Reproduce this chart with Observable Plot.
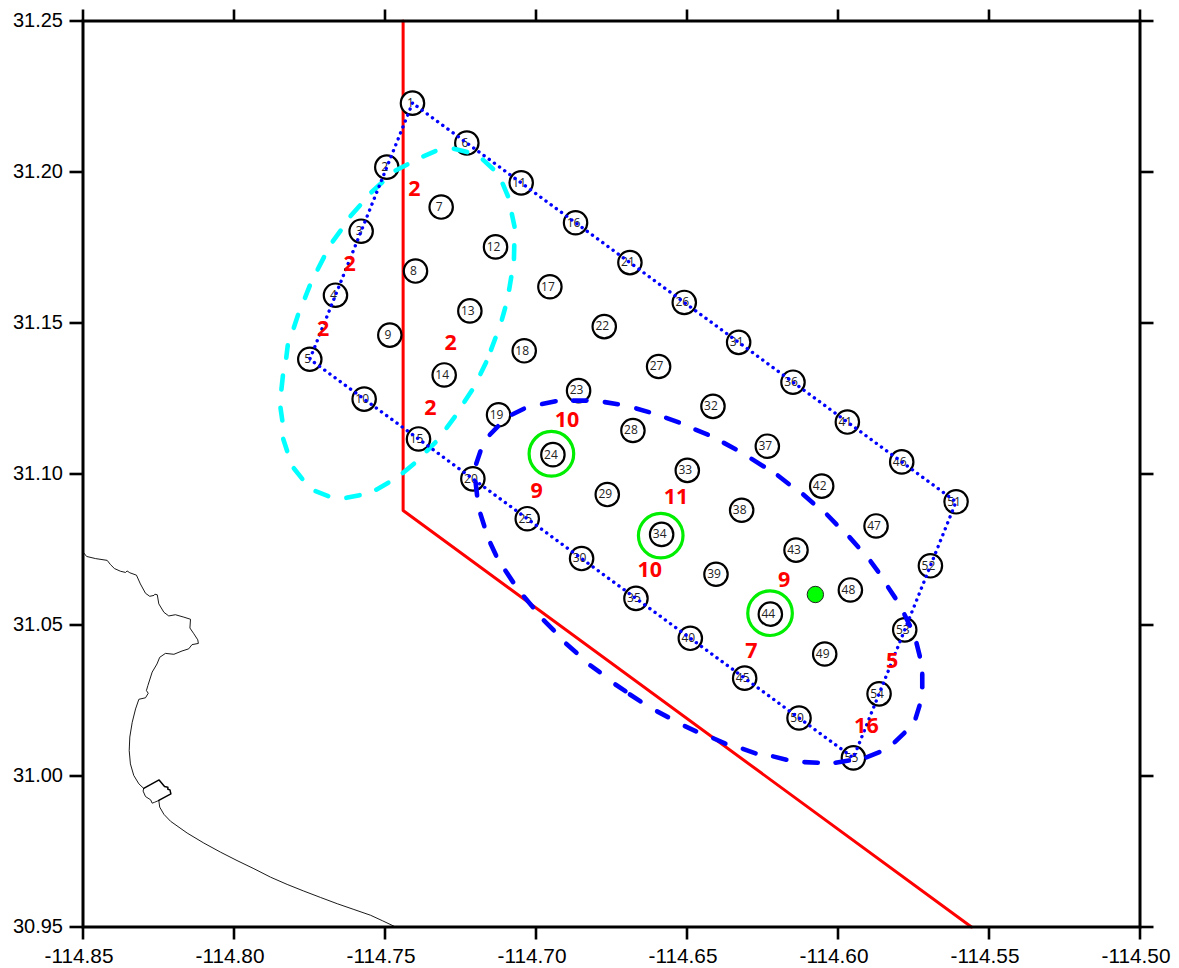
<!DOCTYPE html>
<html>
<head>
<meta charset="utf-8">
<script src="https://cdn.jsdelivr.net/npm/d3@7"></script>
<script src="https://cdn.jsdelivr.net/npm/@observablehq/plot@0.6"></script>
<style>
html,body{margin:0;padding:0;background:#fff}
svg{display:block}
</style>
</head>
<body>
<div id="chart"></div>
<script>
const xTicks = [-114.85,-114.80,-114.75,-114.70,-114.65,-114.60,-114.55,-114.50];
const yTicks = [30.95,31.00,31.05,31.10,31.15,31.20,31.25];

const stationLon = [
 -114.7409,-114.7494,-114.7579,-114.7664,-114.7749,
 -114.7229,-114.7314,-114.7399,-114.7484,-114.7569,
 -114.7049,-114.7134,-114.7219,-114.7304,-114.7389,
 -114.6869,-114.6954,-114.7039,-114.7124,-114.7209,
 -114.6689,-114.6774,-114.6859,-114.6944,-114.7029,
 -114.6509,-114.6594,-114.6679,-114.6764,-114.6849,
 -114.6329,-114.6414,-114.6499,-114.6584,-114.6669,
 -114.6149,-114.6234,-114.6319,-114.6404,-114.6489,
 -114.5969,-114.6054,-114.6139,-114.6224,-114.6309,
 -114.5789,-114.5874,-114.5959,-114.6044,-114.6129,
 -114.5609,-114.5694,-114.5779,-114.5864,-114.5949];
const stationLat = [
 31.2228,31.2016,31.1804,31.1592,31.1380,
 31.2096,31.1884,31.1672,31.1460,31.1248,
 31.1964,31.1752,31.1540,31.1328,31.1116,
 31.1832,31.1620,31.1408,31.1196,31.0984,
 31.1700,31.1488,31.1276,31.1064,31.0852,
 31.1568,31.1356,31.1144,31.0932,31.0720,
 31.1436,31.1224,31.1012,31.0800,31.0588,
 31.1304,31.1092,31.0880,31.0668,31.0456,
 31.1172,31.0960,31.0748,31.0536,31.0324,
 31.1040,31.0828,31.0616,31.0404,31.0192,
 31.0908,31.0696,31.0484,31.0272,31.0060];
const perimeter = [1,2,3,4,5,10,15,20,25,30,35,40,45,50,55,54,53,52,51,46,41,36,31,26,21,16,11,6,1];

const countLon = [-114.7403,-114.7617,-114.7705,-114.7283,-114.7350,-114.6897,-114.6998,-114.6536,-114.6623,-114.6287,-114.6178,-114.5821,-114.5906];
const countLat = [31.1944,31.1694,31.1481,31.1433,31.1219,31.1179,31.0943,31.0923,31.0683,31.0413,31.0650,31.0382,31.0164];
const countText = ["2","2","2","2","2","10","9","11","10","7","9","5","16"];

const ringLon = [-114.6949,-114.6587,-114.6225];
const ringLat = [31.1067,31.0796,31.0539];
const sourceLon = [-114.6075];
const sourceLat = [31.0601];

const boundary = [[-114.7440,31.25],[-114.7440,31.0879],[-114.5558,30.95]];

const cyanDashes = [
 [-114.7465,31.2005,-114.7426,31.2025],[-114.7373,31.2052,-114.7333,31.2069],
 [-114.7272,31.2077,-114.7228,31.2066],[-114.7176,31.2041,-114.7142,31.2010],
 [-114.7110,31.1961,-114.7093,31.1920],[-114.7080,31.1861,-114.7071,31.1819],
 [-114.7072,31.1757,-114.7073,31.1712],[-114.7082,31.1652,-114.7089,31.1610],
 [-114.7102,31.1550,-114.7113,31.1511],[-114.7134,31.1451,-114.7149,31.1411],
 [-114.7165,31.1370,-114.7184,31.1331],[-114.7212,31.1277,-114.7237,31.1239],
 [-114.7269,31.1189,-114.7296,31.1153],[-114.7333,31.1105,-114.7362,31.1076],
 [-114.7404,31.1034,-114.7441,31.1003],[-114.7489,31.0971,-114.7529,31.0948],
 [-114.7584,31.0930,-114.7628,31.0921],[-114.7688,31.0927,-114.7730,31.0943],
 [-114.7774,31.0984,-114.7802,31.1019],[-114.7824,31.1076,-114.7837,31.1116],
 [-114.7840,31.1177,-114.7846,31.1219],[-114.7843,31.1280,-114.7838,31.1326],
 [-114.7827,31.1385,-114.7822,31.1426],[-114.7802,31.1484,-114.7788,31.1527],
 [-114.7765,31.1583,-114.7749,31.1624],[-114.7723,31.1677,-114.7702,31.1718],
 [-114.7673,31.1770,-114.7647,31.1806],[-114.7614,31.1854,-114.7583,31.1889],
 [-114.7545,31.1933,-114.7509,31.1966]];

const blueDashes = [
 [-114.7153,31.1130,-114.7126,31.1158],[-114.7079,31.1197,-114.7040,31.1216],
 [-114.6980,31.1232,-114.6935,31.1241],[-114.6877,31.1243,-114.6833,31.1243],
 [-114.6772,31.1238,-114.6729,31.1231],[-114.6668,31.1217,-114.6626,31.1205],
 [-114.6569,31.1186,-114.6527,31.1171],[-114.6472,31.1147,-114.6431,31.1130],
 [-114.6378,31.1103,-114.6339,31.1082],[-114.6286,31.1050,-114.6246,31.1025],
 [-114.6199,31.0995,-114.6163,31.0967],[-114.6115,31.0932,-114.6082,31.0903],
 [-114.6036,31.0865,-114.6005,31.0833],[-114.5962,31.0791,-114.5933,31.0758],
 [-114.5892,31.0711,-114.5867,31.0677],[-114.5834,31.0625,-114.5810,31.0589],
 [-114.5780,31.0535,-114.5762,31.0498],[-114.5740,31.0440,-114.5729,31.0396],
 [-114.5721,31.0338,-114.5721,31.0294],[-114.5730,31.0233,-114.5743,31.0191],
 [-114.5780,31.0143,-114.5812,31.0112],[-114.5863,31.0079,-114.5906,31.0062],
 [-114.5964,31.0051,-114.6008,31.0044],[-114.6067,31.0044,-114.6111,31.0046],
 [-114.6171,31.0054,-114.6215,31.0065],[-114.6273,31.0075,-114.6315,31.0090],
 [-114.6373,31.0107,-114.6413,31.0125],[-114.6470,31.0148,-114.6507,31.0165],
 [-114.6563,31.0195,-114.6599,31.0214],[-114.6654,31.0247,-114.6689,31.0270],
 [-114.6704,31.0281,-114.6737,31.0303],[-114.6789,31.0344,-114.6820,31.0366],
 [-114.6866,31.0408,-114.6900,31.0438],[-114.6941,31.0482,-114.6974,31.0515],
 [-114.7010,31.0559,-114.7040,31.0594],[-114.7076,31.0642,-114.7101,31.0680],
 [-114.7132,31.0730,-114.7151,31.0771],[-114.7171,31.0827,-114.7184,31.0868],
 [-114.7195,31.0929,-114.7200,31.0973],[-114.7198,31.1034,-114.7184,31.1075]];

const coastNorth = [
 [-114.8497,31.0738],[-114.8488,31.0727],[-114.8459,31.0720],[-114.8420,31.0714],[-114.8409,31.0700],
 [-114.8396,31.0687],[-114.8376,31.0678],[-114.8359,31.0674],[-114.8354,31.0679],[-114.8345,31.0673],
 [-114.8323,31.0665],[-114.8310,31.0636],[-114.8293,31.0605],[-114.8279,31.0595],[-114.8265,31.0598],
 [-114.8262,31.0602],[-114.8254,31.0600],[-114.8249,31.0570],[-114.8232,31.0542],[-114.8216,31.0530],
 [-114.8194,31.0534],[-114.8166,31.0526],[-114.8144,31.0519],[-114.8146,31.0490],[-114.8133,31.0471],
 [-114.8120,31.0451],[-114.8118,31.0439],[-114.8139,31.0435],[-114.8150,31.0421],[-114.8172,31.0414],
 [-114.8199,31.0403],[-114.8227,31.0406],[-114.8246,31.0393],[-114.8255,31.0371],[-114.8271,31.0344],
 [-114.8285,31.0300],[-114.8290,31.0283],[-114.8284,31.0274],[-114.8293,31.0259],[-114.8315,31.0254],
 [-114.8326,31.0222],[-114.8337,31.0178],[-114.8345,31.0129],[-114.8347,31.0084],[-114.8343,31.0040],
 [-114.8332,31.0002],[-114.8315,30.9974],[-114.8299,30.9959],[-114.8301,30.9950],[-114.8293,30.9932],
 [-114.8276,30.9921],[-114.8271,30.9910],[-114.8263,30.9913],[-114.8249,30.9919]];
const harbourWall = [
 [-114.8299,30.9959],[-114.8248,30.9987],[-114.8230,30.9965],[-114.8219,30.9963],[-114.8219,30.9956],
 [-114.8212,30.9954],[-114.8209,30.9941],[-114.8249,30.9919]];
const coastSouth = [
 [-114.8249,30.9919],[-114.8246,30.9897],[-114.8232,30.9873],[-114.8210,30.9850],[-114.8155,30.9811],
 [-114.8100,30.9778],[-114.8045,30.9748],[-114.7990,30.9720],[-114.7934,30.9693],[-114.7879,30.9665],
 [-114.7824,30.9641],[-114.7769,30.9619],[-114.7714,30.9598],[-114.7658,30.9577],[-114.7603,30.9558],
 [-114.7548,30.9539],[-114.7509,30.9521],[-114.7471,30.9503]];

const stations = stationLon.map((lon,i)=>({lon,lat:stationLat[i],n:i+1}));
const track = perimeter.map(n=>[stationLon[n-1],stationLat[n-1]]);
const counts = countText.map((t,i)=>({lon:countLon[i],lat:countLat[i],t}));
const rings = ringLon.map((lon,i)=>({lon,lat:ringLat[i]}));
const sources = sourceLon.map((lon,i)=>({lon,lat:sourceLat[i]}));
const dashLink = (rows,color)=>Plot.link(rows,{
  x1:d=>d[0],y1:d=>d[1],x2:d=>d[2],y2:d=>d[3],
  stroke:color,strokeWidth:4.6,strokeLinecap:"round"});

const axisStyle = {fontSize:20,fontFamily:"Liberation Sans",stroke:"#000",color:"#000",strokeWidth:2.6,label:null};
const noText = () => "";

const chart = Plot.plot({
  width:1179,height:968,
  marginLeft:82.5,marginRight:39.5,marginTop:20.5,marginBottom:41.5,
  style:{background:"#fff",fontFamily:"Liberation Sans",overflow:"visible"},
  x:{domain:[-114.85,-114.50]},
  y:{domain:[30.95,31.25]},
  marks:[
    Plot.line(coastNorth,{stroke:"#000",strokeWidth:0.9}),
    Plot.line(coastSouth,{stroke:"#000",strokeWidth:0.9}),
    Plot.line(harbourWall,{stroke:"#000",strokeWidth:1.5}),
    Plot.line(boundary,{stroke:"#ff0000",strokeWidth:3}),
    Plot.dot(rings,{x:"lon",y:"lat",r:22.3,stroke:"#00ee00",strokeWidth:3.2,fill:"none"}),
    Plot.dot(stations,{x:"lon",y:"lat",r:11.7,stroke:"#000",strokeWidth:2.2,fill:"#fff"}),
    Plot.dot(sources,{x:"lon",y:"lat",r:8.2,stroke:"#222",strokeWidth:1,fill:"#00ff00"}),
    Plot.text(stations,{x:"lon",y:"lat",text:d=>String(d.n),fontSize:12,fontFamily:"Open Sans",fill:"#222",dx:-2,textAnchor:"middle",lineAnchor:"middle"}),
    dashLink(cyanDashes,"#00ffff"),
    dashLink(blueDashes,"#0000ff"),
    Plot.line(track,{stroke:"#0000ff",strokeWidth:3.4,strokeDasharray:"0.1 6.3",strokeLinecap:"round"}),
    Plot.text(counts,{x:"lon",y:"lat",text:"t",fontSize:21.5,fontWeight:"bold",fontFamily:"Open Sans",fill:"#ff0000",textAnchor:"middle",lineAnchor:"middle"}),
    Plot.frame({stroke:"#000",strokeWidth:3}),
    Plot.axisX({...axisStyle,anchor:"bottom",ticks:xTicks,tickSize:13,tickFormat:noText}),
    Plot.axisX({...axisStyle,fontSize:20.8,anchor:"bottom",ticks:xTicks,tickSize:0,tickPadding:21,dx:-4,tickFormat:d=>d.toFixed(2)}),
    Plot.axisX({...axisStyle,anchor:"top",ticks:xTicks,tickSize:12,tickFormat:noText}),
    Plot.axisY({...axisStyle,anchor:"left",ticks:yTicks,tickSize:13,tickPadding:7,tickFormat:d=>d.toFixed(2)}),
    Plot.axisY({...axisStyle,anchor:"right",ticks:yTicks,tickSize:13,tickFormat:noText})
  ]
});
document.getElementById("chart").appendChild(chart);
</script>
</body>
</html>
